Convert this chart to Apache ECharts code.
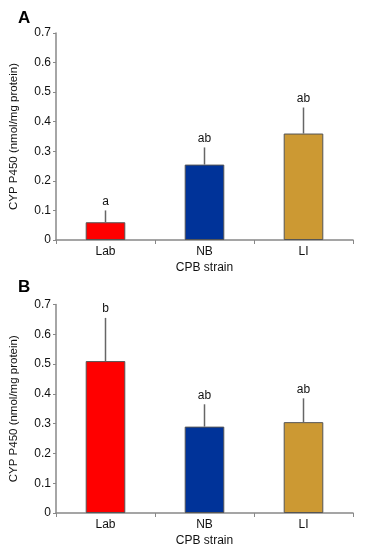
<!DOCTYPE html>
<html><head><meta charset="utf-8">
<script src="https://cdn.jsdelivr.net/npm/echarts@6/dist/echarts.min.js"></script>
<style>html,body{margin:0;padding:0;background:#fff}#c{width:366px;height:550px}</style>
</head><body><div id="c"></div>
<script>
var categories = ['Lab', 'NB', 'LI'];
var barColors = ['#ff0000', '#003399', '#cc9933'];
var meansA = [0.06, 0.255, 0.36];
var errA = [0.04, 0.058, 0.088];
var lettersA = ['a', 'ab', 'ab'];
var meansB = [0.51, 0.29, 0.305];
var errB = [0.145, 0.075, 0.08];
var lettersB = ['b', 'ab', 'ab'];
var yTicks = [0, 0.1, 0.2, 0.3, 0.4, 0.5, 0.6, 0.7];
var panelLabels = ['A', 'B'];
var yName = 'CYP P450 (nmol/mg protein)';
var xName = 'CPB strain';

var FONT = 'Liberation Sans, Arial, sans-serif';
var chart = echarts.init(document.getElementById('c'));

function xAxis(gi) {
  return {
    type: 'category', gridIndex: gi, data: categories,
    axisLine: {lineStyle: {color: '#888', width: 1.5}},
    axisTick: {show: true, length: 4, lineStyle: {color: '#888'}},
    axisLabel: {color: '#111', fontSize: 12, fontFamily: FONT, margin: 6},
    name: xName, nameLocation: 'middle', nameGap: 22,
    nameTextStyle: {color: '#111', fontSize: 12, fontFamily: FONT}
  };
}
function yAxis(gi) {
  return {
    type: 'value', gridIndex: gi, min: yTicks[0], max: yTicks[yTicks.length - 1], interval: 0.1,
    axisLine: {show: true, lineStyle: {color: '#888', width: 1.5}},
    axisTick: {show: true, length: 3, lineStyle: {color: '#888'}},
    splitLine: {show: false},
    axisLabel: {color: '#111', fontSize: 12, fontFamily: FONT, margin: 5,
      formatter: function (v) { return v === 0 ? '0' : v.toFixed(1); }},
    name: yName, nameLocation: 'middle', nameGap: 36,
    nameTextStyle: {color: '#111', fontSize: 11.5, fontFamily: FONT}
  };
}
function barSeries(gi, means) {
  return {
    type: 'bar', xAxisIndex: gi, yAxisIndex: gi, barWidth: '40%',
    data: means.map(function (v, i) {
      return {value: v, itemStyle: {color: barColors[i], borderColor: '#555', borderWidth: 1}};
    })
  };
}
function errSeries(gi, means, errs, letters) {
  return {
    type: 'custom', xAxisIndex: gi, yAxisIndex: gi, z: 5,
    data: means.map(function (m, i) { return [i, m, m + errs[i]]; }),
    renderItem: function (params, api) {
      var i = api.value(0);
      var p0 = api.coord([i, api.value(1)]);
      var p1 = api.coord([i, api.value(2)]);
      return {
        type: 'group',
        children: [
          {type: 'line', shape: {x1: p0[0], y1: p0[1], x2: p1[0], y2: p1[1]},
           style: {stroke: '#666', lineWidth: 1.5}},
          {type: 'text', style: {x: p1[0], y: p1[1] - 3, text: letters[params.dataIndex],
           fill: '#111', fontSize: 12, fontFamily: FONT, align: 'center', verticalAlign: 'bottom'}}
        ]
      };
    }
  };
}

chart.setOption({
  animation: false,
  grid: [
    {left: 55, right: 13, top: 33, height: 207},
    {left: 55, right: 13, top: 304.5, height: 208.5}
  ],
  title: [
    {text: panelLabels[0], left: 13, top: 5, textStyle: {fontSize: 17, fontWeight: 'bold', color: '#000', fontFamily: FONT}},
    {text: panelLabels[1], left: 13, top: 274, textStyle: {fontSize: 17, fontWeight: 'bold', color: '#000', fontFamily: FONT}}
  ],
  xAxis: [xAxis(0), xAxis(1)],
  yAxis: [yAxis(0), yAxis(1)],
  series: [
    barSeries(0, meansA), errSeries(0, meansA, errA, lettersA),
    barSeries(1, meansB), errSeries(1, meansB, errB, lettersB)
  ]
});
</script></body></html>
